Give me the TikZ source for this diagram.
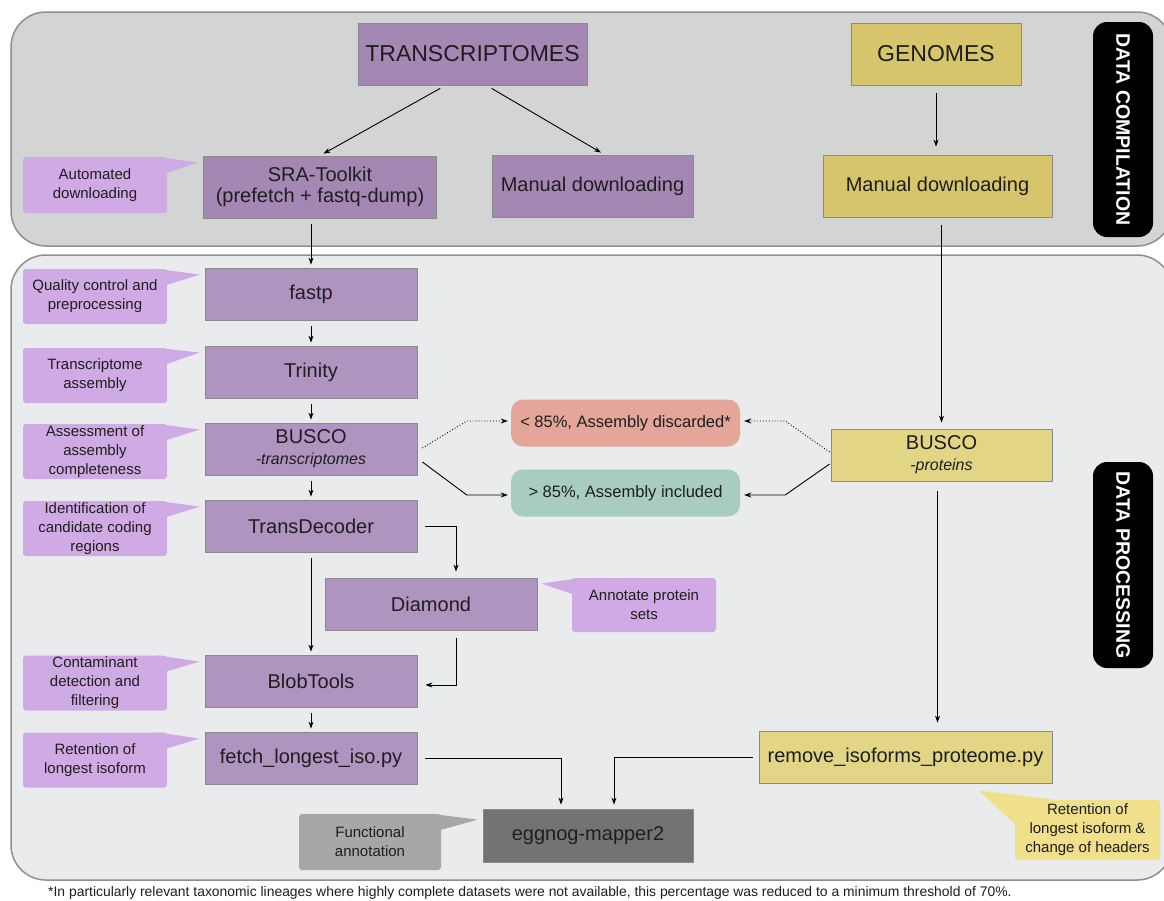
\documentclass[tikz,border=0pt]{standalone}
\usepackage{fontspec}
\setmainfont{Liberation Sans}
\usetikzlibrary{arrows.meta,calc}
\definecolor{panelA}{HTML}{D3D4D4}
\definecolor{panelB}{HTML}{EAEBED}
\definecolor{panelline}{HTML}{8F8F8F}
\definecolor{purpTop}{HTML}{A587B4}
\definecolor{purpB}{HTML}{B094C0}
\definecolor{callP}{HTML}{D0AAE4}
\definecolor{yelTop}{HTML}{D6C56A}
\definecolor{yelB}{HTML}{E2D686}
\definecolor{callY}{HTML}{F0E08C}
\definecolor{salmonc}{HTML}{E3A699}
\definecolor{tealc}{HTML}{A8CDBF}
\definecolor{eggc}{HTML}{737373}
\definecolor{callG}{HTML}{A6A7A6}
\definecolor{boxline}{HTML}{8A8A8A}
\definecolor{txt}{HTML}{1E1E1E}
\newcommand\fsz[2]{\fontsize{#1}{#2}\selectfont}
\tikzset{
  box/.style={draw=boxline, line width=0.8pt, inner sep=0pt, align=center, text=txt, font=\fsz{20}{21}},
  pbox/.style={box, fill=purpB, minimum width=212pt, minimum height=52pt},
  callout/.style={inner sep=0pt, rounded corners=3pt, align=center, text=txt, font=\fsz{15}{19}, minimum width=144pt, minimum height=55pt},
  arr/.style={-{Stealth[length=7pt,width=5pt]}, line width=0.9pt, black},
  dotarr/.style={arr, dotted},
  sidelabel/.style={fill=black, text=white, rounded corners=14pt, rotate=-90, font=\bfseries\fsz{19.5}{22}, minimum height=60pt, inner sep=0pt},
  evalbox/.style={inner sep=0pt, rounded corners=12pt, text=txt, font=\fsz{16.5}{18}, minimum width=229pt, minimum height=47pt}
}
\begin{document}
\begin{tikzpicture}[x=1pt,y=-1pt]
\useasboundingbox (0,0) rectangle (1164,900);
\clip (0,0) rectangle (1164,900);
\fill[white] (0,0) rectangle (1164,900);
% panels
\draw[fill=panelA, draw=panelline, line width=1.5pt, rounded corners=35pt] (11,12) rectangle (1172,246);
\draw[fill=panelB, draw=panelline, line width=1.5pt, rounded corners=35pt] (11,255) rectangle (1172,880);
% side labels
\node[sidelabel, minimum width=215pt] (dc) at (1123,129.5) {DATA COMPILATION};
\node[sidelabel, minimum width=206pt] (dp) at (1123,565) {DATA PROCESSING};
% data compilation boxes
\node[box, fill=purpTop, minimum width=229pt, minimum height=62pt, font=\fsz{23}{25}] (trans) at (472.5,54) {TRANSCRIPTOMES};
\node[box, fill=yelTop, minimum width=170pt, minimum height=62pt, font=\fsz{23}{25}] (genomes) at (936,54) {GENOMES};
\node[box, fill=purpTop, minimum width=233pt, minimum height=62pt] (sra) at (320,187) {SRA-Toolkit\\(prefetch + fastq-dump)};
\node[box, fill=purpTop, minimum width=201pt, minimum height=62pt] (man1) at (592.5,186) {Manual downloading};
\node[box, fill=yelTop, minimum width=229pt, minimum height=62pt] (man2) at (937.5,186) {Manual downloading};
% processing boxes
\node[pbox] (fastp) at (311,294) {fastp};
\node[pbox] (trinity) at (311,372) {Trinity};
\node[pbox] (buscot) at (311,449) {BUSCO\\{\fsz{16}{18}\itshape -transcriptomes}};
\node[pbox] (transd) at (311,526) {TransDecoder};
\node[pbox] (diamond) at (431,604) {Diamond};
\node[pbox] (blob) at (311,681) {BlobTools};
\node[pbox] (fetch) at (311,758) {fetch\_longest\_iso.py};
\node[evalbox, fill=salmonc] (lt) at (625.5,423) {< 85\%, Assembly discarded*};
\node[evalbox, fill=tealc] (gt) at (625.5,493) {> 85\%, Assembly included};
\node[box, fill=yelB, minimum width=221pt, minimum height=52pt] (buscop) at (941.5,455) {BUSCO\\{\fsz{16}{18}\itshape -proteins}};
\node[box, fill=yelB, minimum width=293pt, minimum height=52pt] (remove) at (905.5,757) {remove\_isoforms\_proteome.py};
\node[box, fill=eggc, minimum width=210pt, minimum height=53pt] (eggnog) at (588,835.5) {eggnog-mapper2};
% callouts
\node[callout, fill=callP, minimum height=56pt] (cauto) at (95,185) {Automated\\downloading};
\fill[callP] ($(cauto.north east)+(-10,0)$) -- ($(sra.north west)+(-5,7)$) -- ($(cauto.north east)+(0,16)$) -- cycle;
\node[callout, fill=callP] (cqc) at (95,296.5) {Quality control and\\preprocessing};
\fill[callP] ($(cqc.north east)+(-10,0)$) -- ($(fastp.north west)+(-5,7)$) -- ($(cqc.north east)+(0,16)$) -- cycle;
\node[callout, fill=callP] (cta) at (95,375.5) {Transcriptome\\assembly};
\fill[callP] ($(cta.north east)+(-10,0)$) -- ($(trinity.north west)+(-5,7)$) -- ($(cta.north east)+(0,16)$) -- cycle;
\node[callout, fill=callP] (caac) at (95,451.5) {Assessment of\\assembly\\completeness};
\fill[callP] ($(caac.north east)+(-10,0)$) -- ($(buscot.north west)+(-5,7)$) -- ($(caac.north east)+(0,16)$) -- cycle;
\node[callout, fill=callP] (cicc) at (95,528.5) {Identification of\\candidate coding\\regions};
\fill[callP] ($(cicc.north east)+(-10,0)$) -- ($(transd.north west)+(-5,7)$) -- ($(cicc.north east)+(0,16)$) -- cycle;
\node[callout, fill=callP] (ccdf) at (95,683) {Contaminant\\detection and\\filtering};
\fill[callP] ($(ccdf.north east)+(-10,0)$) -- ($(blob.north west)+(-5,7)$) -- ($(ccdf.north east)+(0,16)$) -- cycle;
\node[callout, fill=callP] (crli) at (95,760) {Retention of\\longest isoform};
\fill[callP] ($(crli.north east)+(-10,0)$) -- ($(fetch.north west)+(-5,7)$) -- ($(crli.north east)+(0,16)$) -- cycle;
\node[callout, fill=callP, minimum height=54pt] (cann) at (644,605) {Annotate protein\\sets};
\fill[callP] ($(cann.north west)+(10,0)$) -- ($(diamond.north east)+(4,6)$) -- ($(cann.north west)+(0,16)$) -- cycle;
\node[callout, fill=callY, minimum width=145pt, minimum height=60pt] (cret) at (1087.5,830) {Retention of\\longest isoform \&\\change of headers};
\fill[callY] ($(cret.north west)+(40,0)$) -- ($(remove.south east)+(-74,7)$) -- ($(cret.north west)+(0,24)$) -- cycle;
\node[callout, fill=callG, minimum width=142pt, minimum height=56pt] (cfa) at (370,842) {Functional\\annotation};
\fill[callG] ($(cfa.north east)+(-10,0)$) -- ($(eggnog.north west)+(-5,11)$) -- ($(cfa.north east)+(0,16)$) -- cycle;
% connectors
\draw[arr, shorten <=6pt, shorten >=4pt] ($(trans.south)+(-27,0)$) -- (sra.north);
\draw[arr, shorten <=6pt, shorten >=4pt] ($(trans.south)+(14,0)$) -- ($(man1.north)+(12,0)$);
\draw[arr, shorten <=8pt, shorten >=8pt] (genomes.south) -- (genomes.south |- man2.north);
\draw[arr, shorten <=8pt, shorten >=6pt] (man2.south -| buscop.south) -- (buscop.north);
\draw[arr, shorten <=6pt, shorten >=3pt] (sra.south -| fastp.north) -- (fastp.north);
\draw[arr, shorten <=6pt, shorten >=3pt] (fastp) -- (trinity);
\draw[arr, shorten <=6pt, shorten >=3pt] (trinity) -- (buscot);
\draw[arr, shorten <=6pt, shorten >=3pt] (buscot) -- (transd);
\draw[arr, shorten <=6pt, shorten >=3pt] (transd) -- (blob);
\draw[arr, shorten <=6pt, shorten >=3pt] (blob) -- (fetch);
\draw[arr, shorten >=6pt] ($(transd.east)+(8,0)$) -| ($(diamond.north)+(25,0)$);
\draw[arr, shorten <=8pt] ($(diamond.south)+(25,0)$) |- ($(blob.east)+(8,4)$);
\draw[dotarr] ($(buscot.east)+(5,-1)$) -- ($(lt.west)+(-44,-2)$) -- ($(lt.west)+(-3,-2)$);
\draw[arr] ($(buscot.east)+(5,13)$) -- ($(gt.west)+(-44,2)$) -- ($(gt.west)+(-3,2)$);
\draw[dotarr] ($(buscop.west)+(-1,-3)$) -- ($(lt.east)+(45,-2)$) -- ($(lt.east)+(4,-2)$);
\draw[arr] ($(buscop.west)+(-1,9)$) -- ($(gt.east)+(45,2)$) -- ($(gt.east)+(4,2)$);
\draw[arr, shorten <=10pt, shorten >=8pt] (buscop.south -| man2.south) -- (remove.north -| man2.south);
\draw[arr, shorten >=4pt] ($(fetch.east)+(8,0)$) -| ($(eggnog.north)+(-27,0)$);
\draw[arr, shorten >=4pt] ($(remove.west)+(-6,0)$) -| ($(eggnog.north)+(26,0)$);
% footnote
\node[anchor=west, inner sep=0pt, text=txt, font=\fsz{13.9}{15}] (foot) at (48,893) {*In particularly relevant taxonomic lineages where highly complete datasets were not available, this percentage was reduced to a minimum threshold of 70\%.};
\end{tikzpicture}
\end{document}
